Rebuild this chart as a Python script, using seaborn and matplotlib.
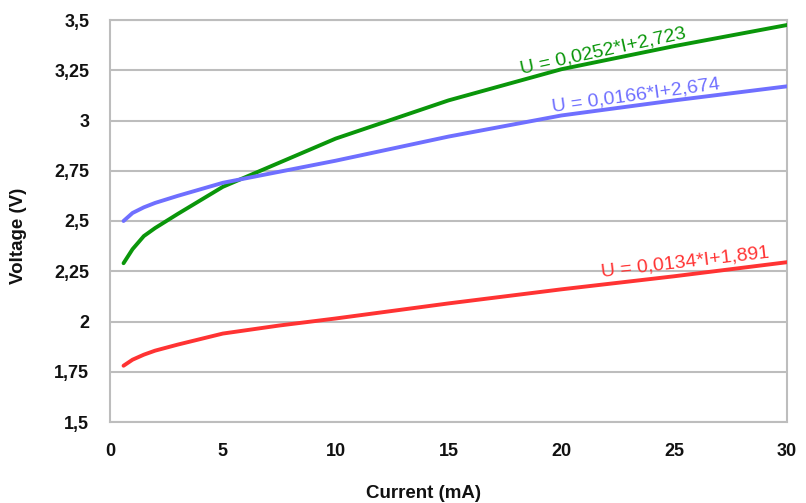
import matplotlib
matplotlib.use("Agg")
import matplotlib.pyplot as plt
import seaborn as sns
import pandas as pd

# Forward current (mA) and measured LED voltages (V)
current = [0.6, 1, 1.5, 2, 3, 5, 7.5, 10, 15, 20, 25, 30]
u_red = [1.78, 1.81, 1.835, 1.855, 1.885, 1.94, 1.98, 2.015, 2.09, 2.16, 2.225, 2.295]
u_blue = [2.50, 2.54, 2.568, 2.59, 2.625, 2.69, 2.745, 2.80, 2.92, 3.025, 3.10, 3.17]
u_green = [2.29, 2.36, 2.425, 2.465, 2.535, 2.67, 2.79, 2.91, 3.10, 3.255, 3.37, 3.475]

series_names = ["green", "blue", "red"]
series_colors = ["#0a960a", "#6f6fff", "#ff3333"]
fit_labels = ["U = 0,0252*I+2,723", "U = 0,0166*I+2,674", "U = 0,0134*I+1,891"]
# anchor (current, voltage) and angle of each fit label
label_pos = [(18.25, 3.232), (19.6, 3.045), (21.8, 2.222)]
label_rot = [12.3, 7.8, 6.6]

y_ticks = [1.5, 1.75, 2, 2.25, 2.5, 2.75, 3, 3.25, 3.5]
y_tick_labels = ["1,5", "1,75", "2", "2,25", "2,5", "2,75", "3", "3,25", "3,5"]
x_ticks = [0, 5, 10, 15, 20, 25, 30]

df = pd.concat([
    pd.DataFrame({"I": current, "U": vals, "led": name})
    for name, vals in zip(series_names, [u_green, u_blue, u_red])
])

sns.set_theme(style="white")
plt.rcParams["font.family"] = ["Liberation Sans", "DejaVu Sans"]

fig = plt.figure(figsize=(8.06, 5.03), dpi=100)
ax = fig.add_axes([110 / 806, 1 - 422 / 503, 677 / 806, 402 / 503])

grid_c = "#bdbdbd"
for yv in y_ticks:
    ax.axhline(yv, color=grid_c, lw=1.5, zorder=0)

sns.lineplot(data=df, x="I", y="U", hue="led", hue_order=series_names,
             palette=dict(zip(series_names, series_colors)),
             linewidth=2.8, legend=False, ax=ax, zorder=3)

for txt, (px, py), rot, col in zip(fit_labels, label_pos, label_rot, series_colors):
    ax.text(px, py, txt, color=col, fontsize=14, rotation=rot,
            rotation_mode="anchor", ha="left", va="baseline", zorder=4)

ax.set_xlim(0, 30)
ax.set_ylim(1.5, 3.5)
ax.set_xticks(x_ticks)
ax.set_xticklabels([str(v) for v in x_ticks])
ax.set_yticks(y_ticks)
ax.set_yticklabels(y_tick_labels)

for side in ["left", "bottom", "right", "top"]:
    ax.spines[side].set_color(grid_c)
    ax.spines[side].set_linewidth(1.5)

ax.tick_params(axis="both", which="both", direction="out", length=9, width=1.5,
               color=grid_c, labelsize=13, pad=6, labelcolor="#111111")
for lab in ax.get_xticklabels() + ax.get_yticklabels():
    lab.set_fontweight("bold")

ax.set_xlabel("")
ax.set_ylabel("")
fig.text(424 / 806, 1 - 494 / 503, "Current (mA)", ha="center", va="center",
         fontsize=13.5, fontweight="bold", color="#111111")
fig.text(19 / 806, 1 - 236 / 503, "Voltage (V)", ha="center", va="center",
         rotation=90, fontsize=13.5, fontweight="bold", color="#111111")

fig.savefig("out.png", dpi=100, facecolor="white")
